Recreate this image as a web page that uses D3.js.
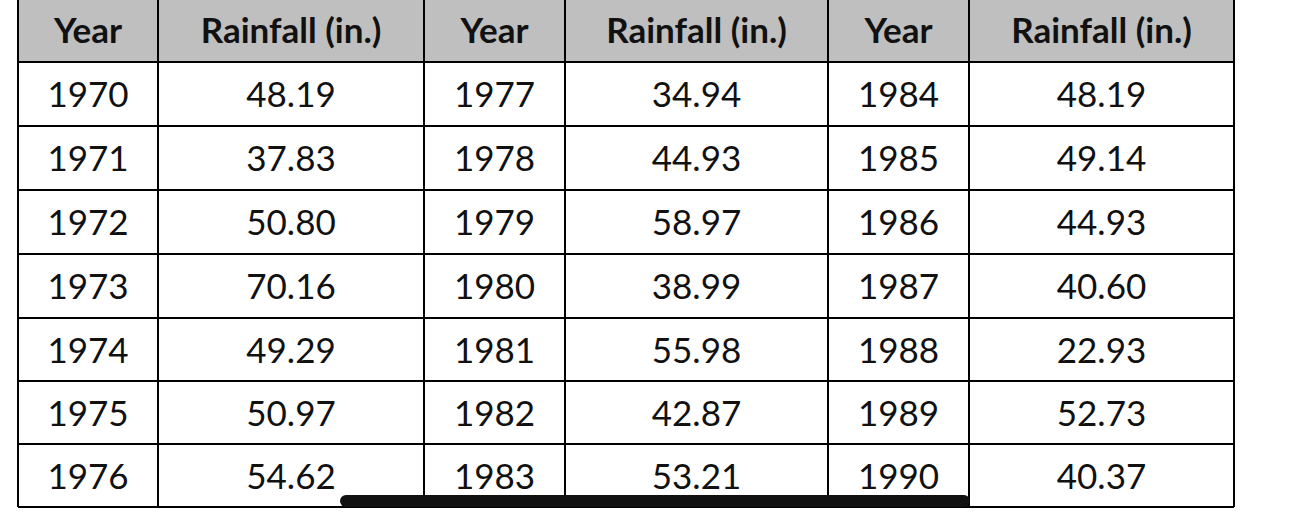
<!DOCTYPE html>
<html><head><meta charset="utf-8">
<script src="https://cdn.jsdelivr.net/npm/d3@7"></script>
<style>body{margin:0;background:#fff}</style>
</head><body>
<script>
const headers = ["Year", "Rainfall (in.)", "Year", "Rainfall (in.)", "Year", "Rainfall (in.)"];
const years1 = [1970, 1971, 1972, 1973, 1974, 1975, 1976];
const rain1 = ["48.19", "37.83", "50.80", "70.16", "49.29", "50.97", "54.62"];
const years2 = [1977, 1978, 1979, 1980, 1981, 1982, 1983];
const rain2 = ["34.94", "44.93", "58.97", "38.99", "55.98", "42.87", "53.21"];
const years3 = [1984, 1985, 1986, 1987, 1988, 1989, 1990];
const rain3 = ["48.19", "49.14", "44.93", "40.60", "22.93", "52.73", "40.37"];

const colEdges = [18, 158, 424, 565, 828, 969, 1234];
const rowEdges = [-2, 62, 126, 190, 254, 318, 381, 444, 507];

const svg = d3.select("body").append("svg").attr("width", 1294).attr("height", 522);
const font = "Lato, 'Open Sans', sans-serif";

const cols = [years1, rain1, years2, rain2, years3, rain3];
const cells = [];
headers.forEach((h, c) => cells.push({r: 0, c, t: h}));
cols.forEach((arr, c) => arr.forEach((v, i) => cells.push({r: i + 1, c, t: String(v)})));

svg.append("rect").attr("x", colEdges[0]).attr("y", rowEdges[0])
  .attr("width", colEdges[6] - colEdges[0]).attr("height", rowEdges[1] - rowEdges[0])
  .attr("fill", "#bfbfbf");

svg.selectAll("text.cell").data(cells).join("text")
  .attr("class", "cell")
  .attr("x", d => (colEdges[d.c] + colEdges[d.c + 1]) / 2)
  .attr("y", d => (rowEdges[d.r] + rowEdges[d.r + 1]) / 2 + 13)
  .attr("text-anchor", "middle")
  .attr("font-family", font)
  .attr("font-size", 35)
  .attr("font-weight", d => d.r === 0 ? "bold" : "normal")
  .attr("fill", "#111")
  .text(d => d.t);

svg.selectAll("line.h").data(rowEdges).join("line")
  .attr("x1", colEdges[0]).attr("x2", colEdges[6])
  .attr("y1", d => d).attr("y2", d => d)
  .attr("stroke", "#000").attr("stroke-width", 2);
svg.selectAll("line.v").data(colEdges).join("line")
  .attr("y1", rowEdges[0]).attr("y2", rowEdges[8])
  .attr("x1", d => d).attr("x2", d => d)
  .attr("stroke", "#000").attr("stroke-width", 2);

// home-indicator bar overlay
svg.append("rect").attr("x", 340).attr("y", 495).attr("width", 630).attr("height", 12)
  .attr("rx", 6).attr("fill", "#111");
</script>
</body></html>
